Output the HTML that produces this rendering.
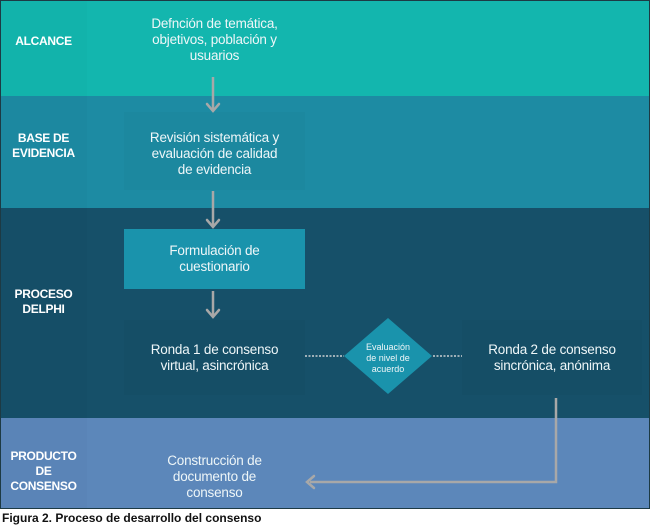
<!DOCTYPE html>
<html><head><meta charset="utf-8"><style>
body{margin:0;width:650px;height:516px;background:#fff;position:relative;overflow:hidden;font-family:"Liberation Sans",sans-serif}
.band{position:absolute;left:0;width:650px}
.lab{position:absolute;left:0;width:87px;color:#fff;font-weight:bold;font-size:12px;text-align:center;line-height:15px;letter-spacing:-0.3px}
.txt{position:absolute;color:#eef6f8;font-size:13.5px;text-align:center;line-height:16px;letter-spacing:-0.2px}
.box{position:absolute}
</style></head><body>
<div class="band" style="top:0;height:96px;background:#13b6ae"></div>
<div class="band" style="top:96px;height:112px;background:#1d8ba3"></div>
<div class="band" style="top:208px;height:210px;background:#165069"></div>
<div class="band" style="top:418px;height:91px;background:#5c87ba"></div>
<div style="position:absolute;left:0;top:0;width:87px;height:509px;background:rgba(0,0,0,0.015)"></div>
<div style="position:absolute;left:0;top:0;width:648px;height:507px;border:1px solid #1d3a44"></div>

<div class="box" style="left:124px;top:112px;width:181px;height:78px;background:rgba(0,0,0,0.02)"></div>
<div class="box" style="left:124px;top:229px;width:181px;height:60px;background:#1a93ac"></div>
<div class="box" style="left:124px;top:320px;width:181px;height:75px;background:rgba(0,0,0,0.025)"></div>
<div class="box" style="left:462px;top:320px;width:180px;height:75px;background:rgba(0,0,0,0.025)"></div>

<div class="lab" style="top:34px">ALCANCE</div>
<div class="lab" style="top:131px">BASE DE<br>EVIDENCIA</div>
<div class="lab" style="top:287px">PROCESO<br>DELPHI</div>
<div class="lab" style="top:449px">PRODUCTO<br>DE<br>CONSENSO</div>

<div class="txt" style="left:124px;top:16px;width:181px">Defnción de temática,<br>objetivos, población y<br>usuarios</div>
<div class="txt" style="left:124px;top:130px;width:181px">Revisión sistemática y<br>evaluación de calidad<br>de evidencia</div>
<div class="txt" style="left:124px;top:243px;width:181px">Formulación de<br>cuestionario</div>
<div class="txt" style="left:124px;top:342px;width:181px">Ronda 1 de consenso<br>virtual, asincrónica</div>
<div class="txt" style="left:462px;top:342px;width:180px">Ronda 2 de consenso<br>sincrónica, anónima</div>
<div class="txt" style="left:124px;top:453px;width:181px">Construcción de<br>documento de<br>consenso</div>

<svg style="position:absolute;left:0;top:0" width="650" height="516">
<g stroke="#a8a8a8" stroke-width="2.5" fill="none">
<line x1="213" y1="77" x2="213" y2="110"/>
<line x1="213" y1="191" x2="213" y2="226"/>
<line x1="213" y1="291" x2="213" y2="316"/>
<polyline points="556,398 556,482 310,482"/>
</g>
<g stroke="#a8a8a8" stroke-width="2.5" fill="none" stroke-linecap="round">
<polyline points="207,104 213,111 219,104"/>
<polyline points="207,220 213,227 219,220"/>
<polyline points="207,310 213,317 219,310"/>
<polyline points="314,476 307,482 314,488"/>
</g>
<g stroke="#9fb0b8" stroke-width="2" stroke-dasharray="2,1.5">
<line x1="305" y1="356" x2="344" y2="356"/>
<line x1="433" y1="356" x2="462" y2="356"/>
</g>
<polygon points="388,318 432,356 388,394 344,356" fill="#1a93ac"/>
<text x="388" y="350" fill="#eef6f8" font-size="9" text-anchor="middle" font-family="Liberation Sans">Evaluación</text>
<text x="388" y="361" fill="#eef6f8" font-size="9" text-anchor="middle" font-family="Liberation Sans">de nivel de</text>
<text x="388" y="372" fill="#eef6f8" font-size="9" text-anchor="middle" font-family="Liberation Sans">acuerdo</text>
</svg>
<div style="position:absolute;left:2px;top:511px;font-size:12px;font-weight:bold;color:#111;white-space:nowrap;line-height:14px">Figura 2. Proceso de desarrollo del consenso</div>
</body></html>
